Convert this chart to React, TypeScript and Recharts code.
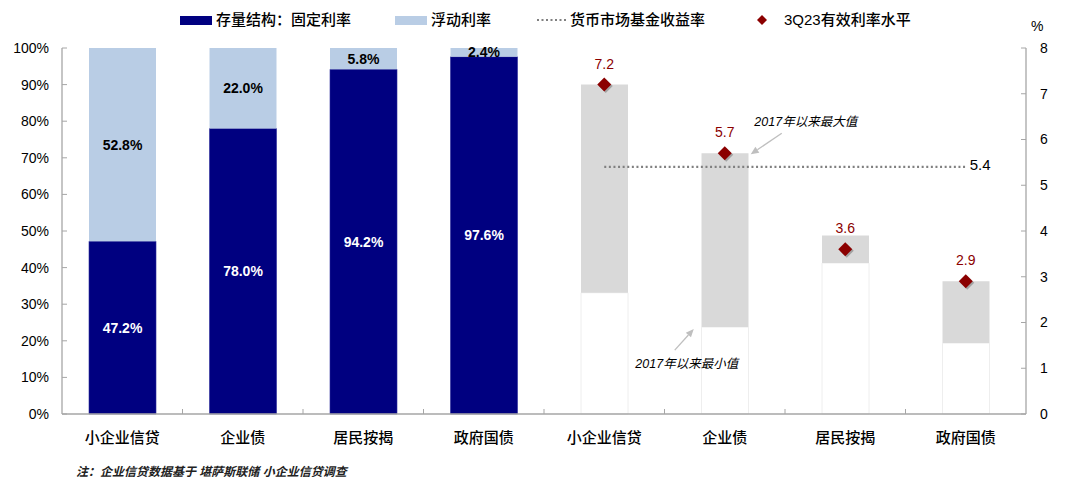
import React from 'react';
import { ComposedChart, Bar, Line, XAxis, YAxis, LabelList, ReferenceDot } from 'recharts';

const categories = ['小企业信贷', '企业债', '居民按揭', '政府国债'];
const fixedShare = [47.2, 78.0, 94.2, 97.6];
const floatShare = [52.8, 22.0, 5.8, 2.4];
const minSince2017 = [2.65, 1.9, 3.3, 1.55];
const maxSince2017 = [7.2, 5.7, 3.9, 2.9];
const effectiveRate3Q23 = [7.2, 5.7, 3.6, 2.9];
const moneyMarketYield = 5.4;
const pctTicks = [0, 10, 20, 30, 40, 50, 60, 70, 80, 90, 100];
const rateTicks = [0, 1, 2, 3, 4, 5, 6, 7, 8];

const legendNames = ['存量结构：固定利率', '浮动利率', '货币市场基金收益率', '3Q23有效利率水平'];
const noteText = '注：企业信贷数据基于 堪萨斯联储 小企业信贷调查';
const maxNote = '2017年以来最大值';
const minNote = '2017年以来最小值';

const data = [
  ...categories.map((c, i) => ({ key: `L${i}`, label: c, fixed: fixedShare[i], float: floatShare[i] })),
  ...categories.map((c, i) => ({
    key: `R${i}`,
    label: c,
    base: minSince2017[i],
    range: +(maxSince2017[i] - minSince2017[i]).toFixed(2),
    eff: effectiveRate3Q23[i],
    mmf: moneyMarketYield,
  })),
];

const FONT = "'Liberation Sans', Arial, 'Noto Sans CJK SC', sans-serif";
const NAVY = '#000080';
const LIGHT = '#B9CDE5';
const GRAYBAR = '#D9D9D9';
const MAROON = '#8B0000';
const AXIS = '#A6A6A6';

const CatTick = (props: any) => {
  const { x, y, payload, index, width, visibleTicksCount } = props;
  const bw = width / visibleTicksCount;
  const row = data.find((d) => d.key === payload.value);
  return (
    <g>
      {index > 0 && <line x1={x - bw / 2} x2={x - bw / 2} y1={y} y2={y - 5} stroke={AXIS} strokeWidth={1} />}
      <text x={x} y={y + 23} textAnchor="middle" dominantBaseline="central" fontSize={15} fontWeight={500} fontFamily={FONT} fill="#000">
        {row ? row.label : ''}
      </text>
    </g>
  );
};

const Diamond = (props: any) => {
  const { cx, cy, value } = props;
  if (value == null || cx == null || cy == null) return null;
  const r = 7;
  const pts = (dx: number, dy: number) =>
    `${cx + dx},${cy + dy - r} ${cx + dx + r},${cy + dy} ${cx + dx},${cy + dy + r} ${cx + dx - r},${cy + dy}`;
  return (
    <g>
      <polygon points={pts(1.5, 1.5)} fill="#000" opacity={0.25} />
      <polygon points={pts(0, 0)} fill={MAROON} />
    </g>
  );
};

const pctLabel = (color: string) => (props: any) => {
  const { x, y, width, height, value } = props;
  if (value == null) return null;
  return (
    <text x={x + width / 2} y={y + height / 2} textAnchor="middle" dominantBaseline="central" fontSize={14} fontWeight="bold" fontFamily={FONT} fill={color}>
      {`${Number(value).toFixed(1)}%`}
    </text>
  );
};

const effLabel = (props: any) => {
  const { x, y, value } = props;
  if (value == null) return null;
  return (
    <text x={x} y={y - 21} textAnchor="middle" dominantBaseline="central" fontSize={14} fontFamily={FONT} fill={MAROON}>
      {Number(value).toFixed(1)}
    </text>
  );
};

const mmfLabel = (props: any) => {
  const { x, y, value, index } = props;
  if (value == null || index !== data.length - 1) return null;
  return (
    <text x={x + 4} y={y - 2} textAnchor="start" dominantBaseline="central" fontSize={15} fontFamily={FONT} fill="#000">
      {Number(value).toFixed(1)}
    </text>
  );
};

const Arrow = ({ x1, y1, x2, y2 }: { x1: number; y1: number; x2: number; y2: number }) => {
  const ang = Math.atan2(y2 - y1, x2 - x1);
  const L = 8;
  const W = 3.5;
  const bx = x2 - L * Math.cos(ang);
  const by = y2 - L * Math.sin(ang);
  const px = -Math.sin(ang) * W;
  const py = Math.cos(ang) * W;
  return (
    <g>
      <line x1={x1} y1={y1} x2={bx} y2={by} stroke="#BFBFBF" strokeWidth={1.3} />
      <polygon points={`${x2},${y2} ${bx + px},${by + py} ${bx - px},${by - py}`} fill="#BFBFBF" />
    </g>
  );
};

const MaxNote = (props: any) => {
  const { cx, cy } = props;
  if (cx == null) return null;
  return (
    <g>
      <Arrow x1={cx + 57} y1={cy - 20} x2={cx + 26} y2={cy + 1} />
      <text x={cx + 81} y={cy - 31} textAnchor="middle" dominantBaseline="central" fontSize={12.5} fontStyle="italic" fontFamily={FONT} fill="#000">
        {maxNote}
      </text>
    </g>
  );
};

const MinNote = (props: any) => {
  const { cx, cy } = props;
  if (cx == null) return null;
  return (
    <g>
      <Arrow x1={cx - 50} y1={cy + 23} x2={cx - 31} y2={cy + 2} />
      <text x={cx - 38} y={cy + 37} textAnchor="middle" dominantBaseline="central" fontSize={12.5} fontStyle="italic" fontFamily={FONT} fill="#000">
        {minNote}
      </text>
    </g>
  );
};

const legendText: React.CSSProperties = { position: 'absolute', top: 11, fontSize: 15, fontWeight: 500, fontFamily: FONT, color: '#000', lineHeight: '18px', whiteSpace: 'nowrap' };

export default function App() {
  return (
    <div style={{ position: 'absolute', left: 0, top: 0, width: 1080, height: 486, background: '#fff', overflow: 'hidden' }}>
      {/* legend */}
      <div style={{ position: 'absolute', left: 180, top: 16, width: 32, height: 9, background: NAVY }} />
      <div style={{ ...legendText, left: 216 }}>{legendNames[0]}</div>
      <div style={{ position: 'absolute', left: 395, top: 16, width: 32, height: 9, background: LIGHT }} />
      <div style={{ ...legendText, left: 431 }}>{legendNames[1]}</div>
      <svg style={{ position: 'absolute', left: 536, top: 14 }} width={32} height={12}>
        <line x1={1} x2={30} y1={6} y2={6} stroke="#808080" strokeWidth={2} strokeDasharray="2 2.5" />
      </svg>
      <div style={{ ...legendText, left: 570 }}>{legendNames[2]}</div>
      <svg style={{ position: 'absolute', left: 754, top: 12 }} width={16} height={16}>
        <polygon points="8,3 13,8 8,13 3,8" fill={MAROON} />
      </svg>
      <div style={{ ...legendText, left: 784 }}>{legendNames[3]}</div>
      <div style={{ position: 'absolute', left: 1031, top: 18, fontSize: 14, fontFamily: FONT }}>%</div>

      <ComposedChart width={1080} height={486} data={data} margin={{ top: 48, right: 14, bottom: 32, left: 0 }}>
        <XAxis
          xAxisId="L"
          dataKey="key"
          height={40}
          tickLine={false}
          tickSize={0}
          tickMargin={0}
          interval={0}
          axisLine={{ stroke: AXIS, strokeWidth: 1.3 }}
          tick={<CatTick />}
        />
        <XAxis xAxisId="R" dataKey="key" hide />
        <YAxis
          yAxisId="pct"
          domain={[0, 100]}
          ticks={pctTicks}
          tickFormatter={(v: number) => `${v}%`}
          width={62}
          tickSize={-5}
          tickMargin={18}
          axisLine={{ stroke: AXIS, strokeWidth: 1.3 }}
          tickLine={{ stroke: AXIS }}
          tick={{ fontSize: 14, fill: '#000', fontFamily: FONT }}
          interval={0}
        />
        <YAxis
          yAxisId="rate"
          orientation="right"
          domain={[0, 8]}
          ticks={rateTicks}
          width={40}
          tickSize={-5}
          tickMargin={19}
          axisLine={{ stroke: AXIS, strokeWidth: 1.3 }}
          tickLine={{ stroke: AXIS }}
          tick={{ fontSize: 14, fill: '#000', fontFamily: FONT }}
          interval={0}
        />

        <Bar xAxisId="L" yAxisId="pct" dataKey="fixed" stackId="share" fill={NAVY} stroke="#2a2a9a" strokeWidth={0.6} barSize={67} isAnimationActive={false}>
          <LabelList dataKey="fixed" content={pctLabel('#fff')} />
        </Bar>
        <Bar xAxisId="L" yAxisId="pct" dataKey="float" stackId="share" fill={LIGHT} barSize={67} isAnimationActive={false}>
          <LabelList dataKey="float" content={pctLabel('#000')} />
        </Bar>

        <Bar xAxisId="R" yAxisId="rate" dataKey="base" stackId="range" fill="#fff" stroke="#EEEEEE" strokeWidth={1} barSize={47} isAnimationActive={false} />
        <Bar xAxisId="R" yAxisId="rate" dataKey="range" stackId="range" fill={GRAYBAR} barSize={47} isAnimationActive={false} />

        <Line
          xAxisId="R"
          yAxisId="rate"
          dataKey="mmf"
          stroke="#808080"
          strokeWidth={2.2}
          strokeDasharray="2 2.6"
          dot={false}
          activeDot={false}
          isAnimationActive={false}
        >
          <LabelList dataKey="mmf" content={mmfLabel} />
        </Line>
        <Line
          xAxisId="R"
          yAxisId="rate"
          dataKey="eff"
          stroke="none"
          dot={<Diamond />}
          activeDot={false}
          isAnimationActive={false}
        >
          <LabelList dataKey="eff" content={effLabel} />
        </Line>

        <ReferenceDot xAxisId="R" yAxisId="rate" x="R1" y={maxSince2017[1]} r={0} shape={<MaxNote />} />
        <ReferenceDot xAxisId="R" yAxisId="rate" x="R1" y={minSince2017[1]} r={0} shape={<MinNote />} />
      </ComposedChart>

      <div style={{ position: 'absolute', left: 76, top: 462, fontSize: 12, fontStyle: 'italic', fontWeight: 'bold', fontFamily: FONT, color: '#222', whiteSpace: 'nowrap' }}>
        {noteText}
      </div>
    </div>
  );
}
